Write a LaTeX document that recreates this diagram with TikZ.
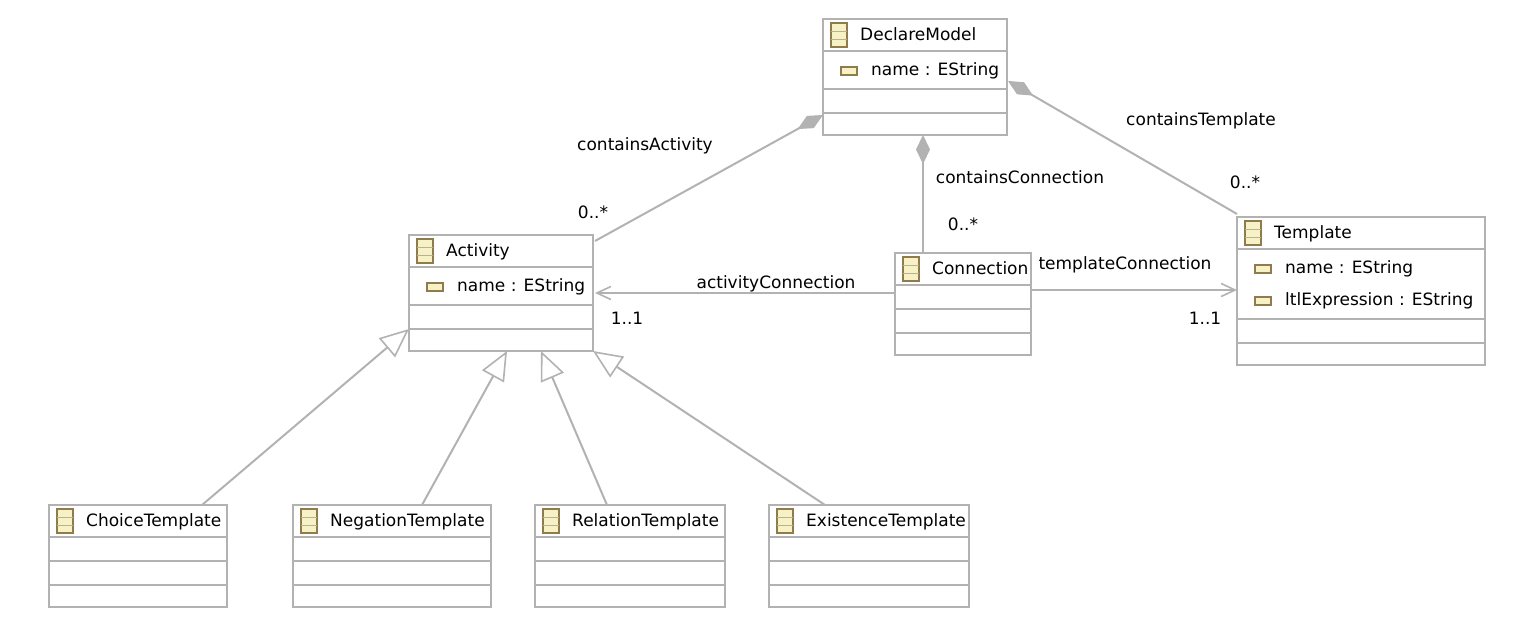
\documentclass[tikz,border=0pt]{standalone}
\usepackage{fontspec}
\setmainfont{DejaVu Sans}
\usetikzlibrary{arrows.meta,calc}
\definecolor{linegray}{HTML}{B2B2B2}
\definecolor{iconfill}{HTML}{F6F2C6}
\definecolor{iconedge}{HTML}{8F7B4B}
\tikzset{
  classbox/.style={draw=linegray,line width=2pt,fill=white,anchor=north west,inner sep=0pt,outer sep=0pt},
  label/.style={font=\fontsize{17}{20}\selectfont,text=black,inner sep=0pt},
  classname/.style={label,anchor=base west},
  link/.style={draw=linegray,line width=2pt},
  owner/.style={{Diamond[length=29pt,width=14pt,fill=linegray,line width=1pt]}-},
  target/.style={-{Straight Barb[length=14pt,width=13pt,line width=1.6pt]}},
  parent/.style={-{Triangle[open,length=29pt,width=25pt,fill=white,line width=1.6pt]}},
  iconbox/.style={draw=iconedge,fill=iconfill,line width=1.4pt},
}
% id, left, top, width, height, title, then the three rules below the title
\newcommand{\umlclass}[9]{
  \node[classbox,minimum width=#4pt,minimum height=#5pt] (#1) at (#2,#3) {};
  \node[classname] (#1name) at (#2+37,#3+21) {#6};
  \draw[iconbox] (#2+8,#3+4) rectangle (#2+24,#3+28);
  \draw[iconedge!60,line width=1pt] (#2+8,#3+12) -- (#2+24,#3+12) (#2+8,#3+20) -- (#2+24,#3+20);
  \draw[linegray,line width=2pt] (#2,#7) -- (#2+#4,#7) (#2,#8) -- (#2+#4,#8) (#2,#9) -- (#2+#4,#9);
}
% id, left, row top, text
\newcommand{\umlattr}[4]{
  \draw[iconbox] (#2+18,#3+16) rectangle (#2+34,#3+24);
  \node[classname] (#1) at (#2+48,#3+24) {#4};
}
\begin{document}
\begin{tikzpicture}[x=1pt,y=-1pt]
  \useasboundingbox (0,0) rectangle (1532,624);
  \umlclass{model}{823}{19}{184}{116}{DeclareModel}{51}{89}{113}
  \umlattr{modelattr}{823}{51}{name : EString}
  \umlclass{activity}{409}{235}{184}{116}{Activity}{267}{305}{329}
  \umlattr{activityattr}{409}{267}{name : EString}
  \umlclass{connection}{895}{253}{136}{102}{Connection}{285}{309}{333}
  \umlclass{template}{1237}{217}{248}{148}{Template}{249}{319}{343}
  \umlattr{templateattr}{1237}{249}{name : EString}
  \umlattr{templateltl}{1237}{281}{ltlExpression : EString}
  \umlclass{choice}{49}{505}{178}{102}{ChoiceTemplate}{537}{561}{585}
  \umlclass{negation}{293}{505}{198}{102}{NegationTemplate}{537}{561}{585}
  \umlclass{relation}{535}{505}{190}{102}{RelationTemplate}{537}{561}{585}
  \umlclass{existence}{769}{505}{200}{102}{ExistenceTemplate}{537}{561}{585}

  \draw[link,owner] ([yshift=20pt]model.south west) -- ([xshift=2pt,yshift=-6pt]activity.north east);
  \draw[link,owner] ([xshift=8pt]model.south) -- ([xshift=-40pt]connection.north);
  \draw[link,owner] ([xshift=1pt,yshift=-62pt]model.north east) -- ([yshift=3pt]template.north west);
  \draw[link,target] ([yshift=-40pt]connection.north west) -- ([xshift=2pt,yshift=-58pt]activity.north east);
  \draw[link,target] ([yshift=-37pt]connection.north east) -- ([yshift=-73pt]template.north west);
  \draw[link,parent] ([xshift=-25pt]choice.north east) -- ([yshift=22pt]activity.south west);
  \draw[link,parent] ([xshift=30pt]negation.north) -- ([xshift=6pt]activity.south);
  \draw[link,parent] ([xshift=-23pt]relation.north) -- ([xshift=40pt]activity.south);
  \draw[link,parent] ([xshift=-44pt]existence.north) -- (activity.south east);

  \node[label] (activitylabel) at (645,146) {containsActivity};
  \node[label] (activitymult) at (593,212) {0..*};
  \node[label] (connlabel) at (1020,177) {containsConnection};
  \node[label] (connmult) at (963,224) {0..*};
  \node[label] (templatelabel) at (1201,121) {containsTemplate};
  \node[label] (templatemult) at (1245,182) {0..*};
  \node[label] (actconnlabel) at (776,284) {activityConnection};
  \node[label] (actconnmult) at (627,318) {1..1};
  \node[label] (tplconnlabel) at (1125,265) {templateConnection};
  \node[label] (tplconnmult) at (1205,318) {1..1};
\end{tikzpicture}
\end{document}
